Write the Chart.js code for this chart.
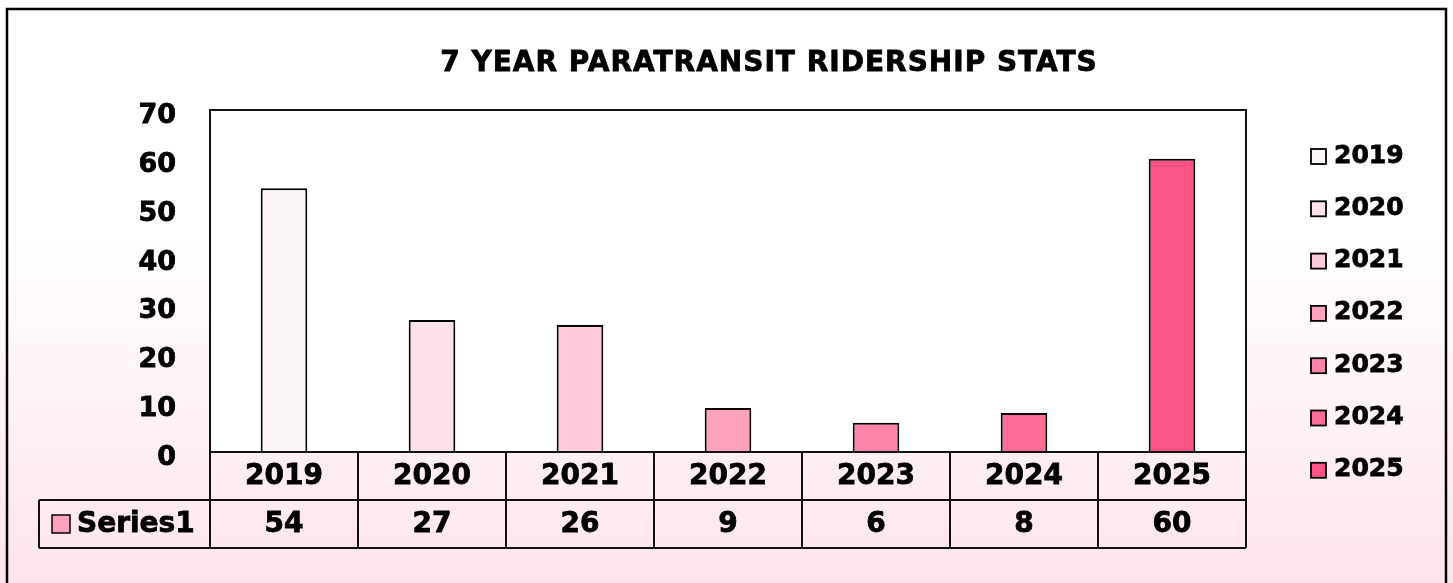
<!DOCTYPE html>
<html>
<head>
<meta charset="utf-8">
<script src="https://cdn.jsdelivr.net/npm/chart.js@4/dist/chart.umd.min.js"></script>
<style>
  html, body { margin: 0; padding: 0; background: #fff; }
  #wrap { width: 1453px; height: 583px; position: relative; }
</style>
</head>
<body>
<div id="wrap"><canvas id="grafico" width="1453" height="583"></canvas></div>
<script>
// datos del grafico
const titulo = '7 YEAR PARATRANSIT RIDERSHIP STATS';
const anios = ['2019', '2020', '2021', '2022', '2023', '2024', '2025'];
const pasajeros = [54, 27, 26, 9, 6, 8, 60];
const nombreSerie = 'Series1';
const marcasY = [0, 10, 20, 30, 40, 50, 60, 70];
const coloresBarras = ['#fdf6f8', '#fde2ea', '#fdcbdb', '#fda1bd', '#fc84a8', '#fc6d97', '#fb5588'];
const colorSerie = '#fda1bd';

const FUENTE = '"DejaVu Sans", Verdana, sans-serif';

// texto en negrita con un trazo fino para engrosarlo
function texto(ctx, t, x, y) {
    ctx.fillText(t, x, y);
    ctx.strokeText(t, x, y);
}

// fondo degradado + marco exterior
const fondo = {
    id: 'fondo',
    beforeDraw(chart) {
        const ctx = chart.ctx;
        const g = ctx.createLinearGradient(0, 0, 0, chart.height);
        g.addColorStop(0, '#ffffff');
        g.addColorStop(0.4, '#ffffff');
        g.addColorStop(1, '#fde5ec');
        ctx.save();
        ctx.fillStyle = g;
        ctx.fillRect(0, 0, chart.width, chart.height);
        ctx.strokeStyle = '#000';
        ctx.lineWidth = 2.5;
        ctx.strokeRect(7, 9, 1439, chart.height);
        ctx.restore();
    },
    beforeDatasetsDraw(chart) {
        const {ctx, chartArea: a} = chart;
        ctx.save();
        ctx.fillStyle = '#ffffff';
        ctx.fillRect(a.left, a.top, a.right - a.left, a.bottom - a.top);
        ctx.restore();
    },
    afterDatasetsDraw(chart) {
        const {ctx, chartArea: a} = chart;
        ctx.save();
        ctx.strokeStyle = '#111';
        ctx.lineWidth = 2;
        ctx.strokeRect(a.left, a.top, a.right - a.left, a.bottom - a.top);
        ctx.restore();
    }
};

// titulo, leyenda y tabla de datos
const extras = {
    id: 'extras',
    afterDraw(chart) {
        const {ctx, chartArea: a} = chart;
        const x = chart.scales.x;
        const ancho = (a.right - a.left) / anios.length;
        const filaH = 48;
        ctx.save();

        // titulo
        ctx.fillStyle = '#000';
        ctx.strokeStyle = '#000';
        ctx.lineWidth = 0.8;
        ctx.font = 'bold 28px ' + FUENTE;
        ctx.letterSpacing = '1px';
        ctx.textAlign = 'center';
        ctx.textBaseline = 'middle';
        texto(ctx, titulo, 769, 64);
        ctx.letterSpacing = '0px';

        // tabla
        ctx.strokeStyle = '#111';
        ctx.lineWidth = 2;
        const y0 = a.bottom, y1 = a.bottom + filaH, y2 = a.bottom + 2 * filaH;
        const izq = 39;
        ctx.beginPath();
        ctx.moveTo(a.left, y0); ctx.lineTo(a.left, y2);
        ctx.moveTo(a.right, y0); ctx.lineTo(a.right, y2);
        ctx.moveTo(izq, y1); ctx.lineTo(a.right, y1);
        ctx.moveTo(izq, y2); ctx.lineTo(a.right, y2);
        ctx.moveTo(izq, y1); ctx.lineTo(izq, y2);
        anios.forEach((_, i) => {
            const bx = x.getPixelForValue(i) + ancho / 2;
            ctx.moveTo(bx, y0); ctx.lineTo(bx, y2);
        });
        ctx.stroke();

        ctx.strokeStyle = '#000';
        ctx.lineWidth = 0.8;
        ctx.font = 'bold 28px ' + FUENTE;
        anios.forEach((anio, i) => {
            const cx = x.getPixelForValue(i);
            texto(ctx, anio, cx, (y0 + y1) / 2 + 1);
            texto(ctx, String(pasajeros[i]), cx, (y1 + y2) / 2 + 1);
        });

        // clave de la serie
        ctx.lineWidth = 1.5;
        ctx.fillStyle = colorSerie;
        ctx.fillRect(52, y1 + 15, 18, 18);
        ctx.strokeRect(52, y1 + 15, 18, 18);
        ctx.fillStyle = '#000';
        ctx.lineWidth = 0.8;
        ctx.textAlign = 'left';
        texto(ctx, nombreSerie, 77, (y1 + y2) / 2 + 1);

        // leyenda
        ctx.font = 'bold 25px ' + FUENTE;
        anios.forEach((anio, i) => {
            const ly = 156 + i * 52.3;
            ctx.fillStyle = coloresBarras[i];
            ctx.fillRect(1311, ly - 7, 15, 15);
            ctx.strokeStyle = '#000';
            ctx.lineWidth = 1.8;
            ctx.strokeRect(1311, ly - 7, 15, 15);
            ctx.fillStyle = '#000';
            ctx.lineWidth = 0.8;
            texto(ctx, anio, 1334, ly);
        });
        ctx.restore();
    }
};

const ctx = document.getElementById('grafico').getContext('2d');
new Chart(ctx, {
    type: 'bar',
    data: {
        labels: anios,
        datasets: [{
            label: nombreSerie,
            data: pasajeros,
            backgroundColor: coloresBarras,
            borderColor: '#000',
            borderWidth: 2,
            barPercentage: 0.315,
            categoryPercentage: 1
        }]
    },
    options: {
        responsive: false,
        animation: false,
        layout: { padding: { top: 110, right: 207, bottom: 131, left: 0 } },
        plugins: {
            legend: { display: false },
            title: { display: false },
            tooltip: { enabled: false }
        },
        scales: {
            x: { display: false },
            y: {
                min: 0,
                max: 70,
                afterFit(scale) { scale.width = 210; },
                afterBuildTicks(scale) { scale.ticks = marcasY.map(v => ({ value: v })); },
                grid: { display: false, drawTicks: false },
                border: { display: false },
                ticks: {
                    padding: 34,
                    labelOffset: 6,
                    color: '#000',
                    textStrokeColor: '#000',
                    textStrokeWidth: 0.8,
                    font: { family: FUENTE, size: 27, weight: 'bold' }
                }
            }
        }
    },
    plugins: [fondo, extras]
});
</script>
</body>
</html>
